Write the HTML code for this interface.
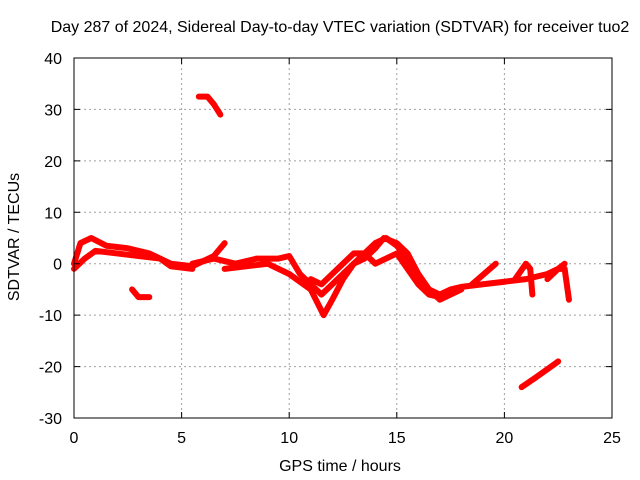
<!DOCTYPE html>
<html><head><meta charset="utf-8"><style>
body{margin:0;background:#fff}
svg{display:block;font-family:"Liberation Sans",sans-serif}
</style></head><body>
<svg id="chart" width="640" height="480" viewBox="0 0 640 480">
<rect width="640" height="480" fill="#fff"/>
<text x="340" y="32" font-size="16" text-anchor="middle">Day 287 of 2024, Sidereal Day-to-day VTEC variation (SDTVAR) for receiver tuo2</text>
<text x="340" y="471" font-size="16" text-anchor="middle">GPS time / hours</text>
<text transform="translate(19,237) rotate(-90)" font-size="16" text-anchor="middle">SDTVAR / TECUs</text>
<g id="grid"></g>
<g id="series"></g>
<rect x="74" y="58" width="538" height="360" fill="none" stroke="#000" stroke-width="1"/>
<g id="ticks"></g>
</svg>
<script>
const xTicks=[0,5,10,15,20,25];
const yTicks=[-30,-20,-10,0,10,20,30,40];
const trackA=[[0,0],[0.3,4],[0.8,5],[1.5,3.5],[2.5,3],[3.5,2],[4.5,0],[5.5,-0.5],[6.5,1.5],[7,4]];
const trackB=[[0,-1],[0.5,1],[1,2.5],[2,2],[3,1.5],[4,1],[4.5,-0.5],[5.5,-1]];
const trackC=[[5.5,0],[6.5,1],[7.5,0],[8.5,1],[9.5,1],[10,1.5],[10.5,-2],[11,-4],[11.5,-6],[12,-4],[13,0],[13.5,2],[14,4],[14.5,5],[15,3.5],[15.5,1],[16,-3],[16.5,-5],[17,-6],[17.5,-5],[18,-4.5],[19,-4],[20,-3.5],[21,-3],[22,-2],[22.5,-1],[22.8,0]];
const trackD=[[7,-1],[8,-0.5],[9,0],[10,-2],[11,-5],[11.6,-10],[12,-7],[12.5,-3],[13,0],[13.5,1],[14,3],[14.4,5],[15,4],[15.5,2],[16,-2],[16.5,-5],[17,-7],[17.5,-6],[18,-5]];
const trackE=[[11,-3],[11.5,-4],[12,-2],[12.5,0],[13,2],[13.5,2],[14,0],[14.5,1],[15,2],[15.5,-1],[16,-4],[16.5,-6],[17,-6.5]];
const trackF=[[18.5,-4],[19.6,0]];
const trackG=[[20.5,-3],[21,0],[21.2,-1],[21.3,-6]];
const trackH=[[22,-3],[22.5,-1],[22.8,-1],[23,-7]];
const trackI=[[2.7,-5],[3,-6.5],[3.5,-6.5]];
const trackJ=[[5.8,32.5],[6.2,32.5],[6.5,31],[6.8,29]];
const trackK=[[20.8,-24],[21.5,-22],[22,-20.5],[22.5,-19]];
const tracks=[trackA,trackB,trackC,trackD,trackE,trackF,trackG,trackH,trackI,trackJ,trackK];
const X=v=>74+v*538/25, Y=v=>418-(v+30)*360/70;
const NS='http://www.w3.org/2000/svg';
const grid=document.getElementById('grid'),ticks=document.getElementById('ticks'),ser=document.getElementById('series');
function mk(tag,attrs,parent){const e=document.createElementNS(NS,tag);for(const k in attrs)e.setAttribute(k,attrs[k]);parent.appendChild(e);return e;}
xTicks.forEach(t=>{const x=X(t);
 if(t>0&&t<25){const g=mk('line',{x1:x,x2:x,y1:58,y2:418,stroke:'#a0a0a0','stroke-dasharray':'2,3'},grid);}
 const tk=mk('path',{d:`M${x},418v-6M${x},58v6`,stroke:'#000'},ticks);
 const l=mk('text',{x:x,y:443,'font-size':16,'text-anchor':'middle'},ticks);l.textContent=t;
 
 });
yTicks.forEach(t=>{const y=Y(t);
 if(t>-30&&t<40){const g=mk('line',{x1:74,x2:612,y1:y,y2:y,stroke:'#a0a0a0','stroke-dasharray':'2,3'},grid);}
 const tk=mk('path',{d:`M74,${y}h6M612,${y}h-6`,stroke:'#000'},ticks);
 const l=mk('text',{x:62,y:y+6,'font-size':16,'text-anchor':'end'},ticks);l.textContent=t;
 
 });
tracks.forEach(tr=>{const p=mk('polyline',{points:tr.map(d=>X(d[0])+','+Y(d[1])).join(' '),fill:'none',stroke:'#f00','stroke-width':6,'stroke-linejoin':'round','stroke-linecap':'round'},ser);
 
 });
</script>
</body></html>
